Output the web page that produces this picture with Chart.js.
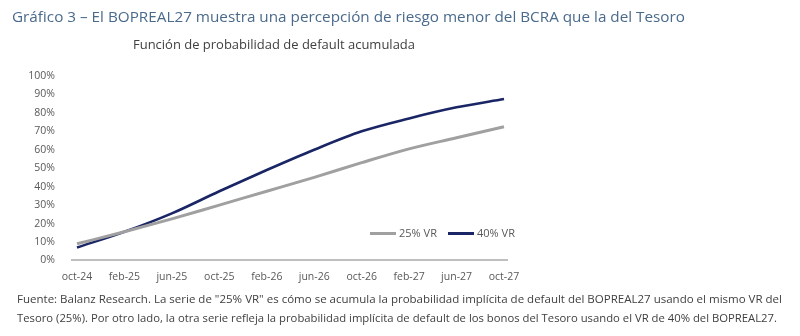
<!DOCTYPE html>
<html>
<head>
<meta charset="utf-8">
<script src="https://cdn.jsdelivr.net/npm/chart.js@4.4.1/dist/chart.umd.min.js"></script>
<style>
    body { margin: 0; width: 800px; height: 336px; background: #fff; position: relative; overflow: hidden; font-family: "Open Sans", sans-serif; }
    .txt { position: absolute; white-space: nowrap; transform-origin: 0 50%; line-height: 1; }
    #title { left: 12px; top: 9px; font-size: 15px; color: #4a6a8c; }
    #subtitle { left: 133px; top: 39px; font-size: 12px; color: #404040; }
    .foot { left: 17px; font-size: 10.5px; color: #404040; }
    #foot1 { top: 294px; }
    #foot2 { top: 313px; }
    #chartBox { position: absolute; left: 0; top: 0; width: 800px; height: 336px; }
    .legend { position: absolute; top: 228px; font-size: 10.5px; color: #595959; display: flex; align-items: center; }
    .legend span.line { display: inline-block; width: 26px; height: 3px; margin-right: 3px; }
</style>
</head>
<body>
<div id="chartBox"><canvas id="chart"></canvas></div>
<div class="txt" id="title" data-w="673">Gráfico 3 – El BOPREAL27 muestra una percepción de riesgo menor del BCRA que la del Tesoro</div>
<div class="txt" id="subtitle" data-w="282">Función de probabilidad de default acumulada</div>
<div class="legend" style="left:370px"><span class="line" style="background:#a0a0a0"></span><span class="txt" style="position:static" data-w="38">25% VR</span></div>
<div class="legend" style="left:448px"><span class="line" style="background:#1a2566"></span><span class="txt" style="position:static" data-w="38">40% VR</span></div>
<div class="txt foot" id="foot1" data-w="765">Fuente: Balanz Research. La serie de "25% VR" es cómo se acumula la probabilidad implícita de default del BOPREAL27 usando el mismo VR del</div>
<div class="txt foot" id="foot2" data-w="760">Tesoro (25%). Por otro lado, la otra serie refleja la probabilidad implícita de default de los bonos del Tesoro usando el VR de 40% del BOPREAL27.</div>
<script>
// Data (cumulative default probability, %)
const labels = ['oct-24', 'feb-25', 'jun-25', 'oct-25', 'feb-26', 'jun-26', 'oct-26', 'feb-27', 'jun-27', 'oct-27'];
const vr25 = [9, 15.5, 22.5, 30, 37.5, 45, 53, 60.5, 66.5, 72.5];
const vr40 = [7, 15.5, 25.5, 37.5, 49, 60, 70, 77, 83, 87.5];
const yTicks = [0, 10, 20, 30, 40, 50, 60, 70, 80, 90, 100];

// Squeeze texts to the widths of the original (Calibri-like narrow font)
document.querySelectorAll('[data-w]').forEach(el => {
    const w = el.getBoundingClientRect().width;
    const target = parseFloat(el.dataset.w);
    el.style.display = 'inline-block';
    el.style.transform = 'scaleX(' + (target / w) + ')';
    if (el.style.position === 'static') {
        el.style.width = target + 'px';
        el.style.transformOrigin = '0 50%';
    }
});

const toPoints = arr => arr.map((v, i) => ({ x: i, y: v }));

new Chart(document.getElementById('chart').getContext('2d'), {
    type: 'line',
    data: {
        datasets: [
            {
                label: '25% VR',
                data: toPoints(vr25),
                borderColor: '#a0a0a0',
                borderWidth: 3,
                pointRadius: 0,
                cubicInterpolationMode: 'monotone',
            },
            {
                label: '40% VR',
                data: toPoints(vr40),
                borderColor: '#1a2566',
                borderWidth: 2.6,
                pointRadius: 0,
                cubicInterpolationMode: 'monotone',
            },
        ],
    },
    options: {
        responsive: true,
        maintainAspectRatio: false,
        animation: false,
        layout: {
            padding: { left: 0, right: 293, top: 76, bottom: 51 },
        },
        plugins: {
            legend: { display: false },
            tooltip: { enabled: false },
        },
        scales: {
            x: {
                type: 'linear',
                min: -0.105,
                max: 9.063,
                grid: { display: false },
                border: { display: true, color: '#bfbfbf', width: 2 },
                ticks: {
                    stepSize: 1,
                    includeBounds: false,
                    autoSkip: false,
                    maxRotation: 0,
                    padding: 2,
                    color: '#595959',
                    font: { family: 'Open Sans', size: 10.5 },
                    callback: v => labels[v] ?? '',
                },
            },
            y: {
                min: 0,
                max: 100,
                grid: { display: false },
                border: { display: false },
                afterFit: scale => { scale.width = 72; },
                afterBuildTicks: scale => { scale.ticks = yTicks.map(v => ({ value: v })); },
                ticks: {
                    padding: 9,
                    color: '#595959',
                    font: { family: 'Open Sans', size: 10.5 },
                    callback: v => v + '%',
                },
            },
        },
    },
});
</script>
</body>
</html>
